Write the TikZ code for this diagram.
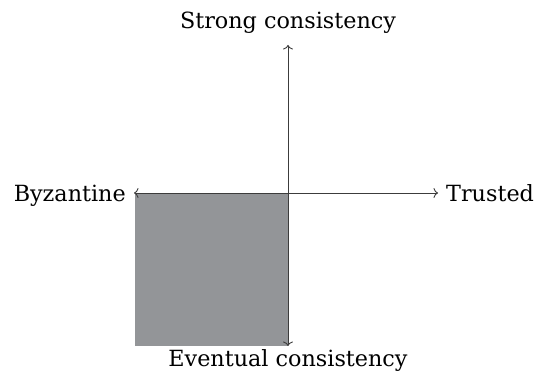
\documentclass[tikz,border=0pt]{standalone}
\usepackage{fontspec}
\setmainfont{DejaVu Serif}
\usetikzlibrary{arrows.meta}
\definecolor{boxgray}{RGB}{147,149,152}
\definecolor{axisgray}{RGB}{60,60,60}
\tikzset{
  axis/.style={draw=axisgray, line width=0.9pt, -{To[length=4.5pt,width=10pt]}},
  lbl/.style={font=\fontsize{22.3}{26}\selectfont, text=black, inner sep=0pt},
}
\begin{document}
\begin{tikzpicture}[x=1pt,y=-1pt]
\useasboundingbox (0,0) rectangle (539,379);
\coordinate (o) at (288,193);
\coordinate (top) at (288,45);
\coordinate (bot) at (288,346);
\coordinate (lft) at (134,193);
\coordinate (rgt) at (438,193);
\fill[boxgray] (135,193) rectangle (288,346);
\draw[axis] (o) -- (top);
\draw[axis] (o) -- (bot);
\draw[axis] (o) -- (lft);
\draw[axis] (o) -- (rgt);
\node[lbl, anchor=base] (s) at (288,28.5) {Strong consistency};
\node[lbl, anchor=base] (e) at (288,367) {Eventual consistency};
\node[lbl, anchor=base east] (b) at (126,201.5) {Byzantine};
\node[lbl, anchor=base west] (t) at (446,201.5) {Trusted};
\end{tikzpicture}
\end{document}
